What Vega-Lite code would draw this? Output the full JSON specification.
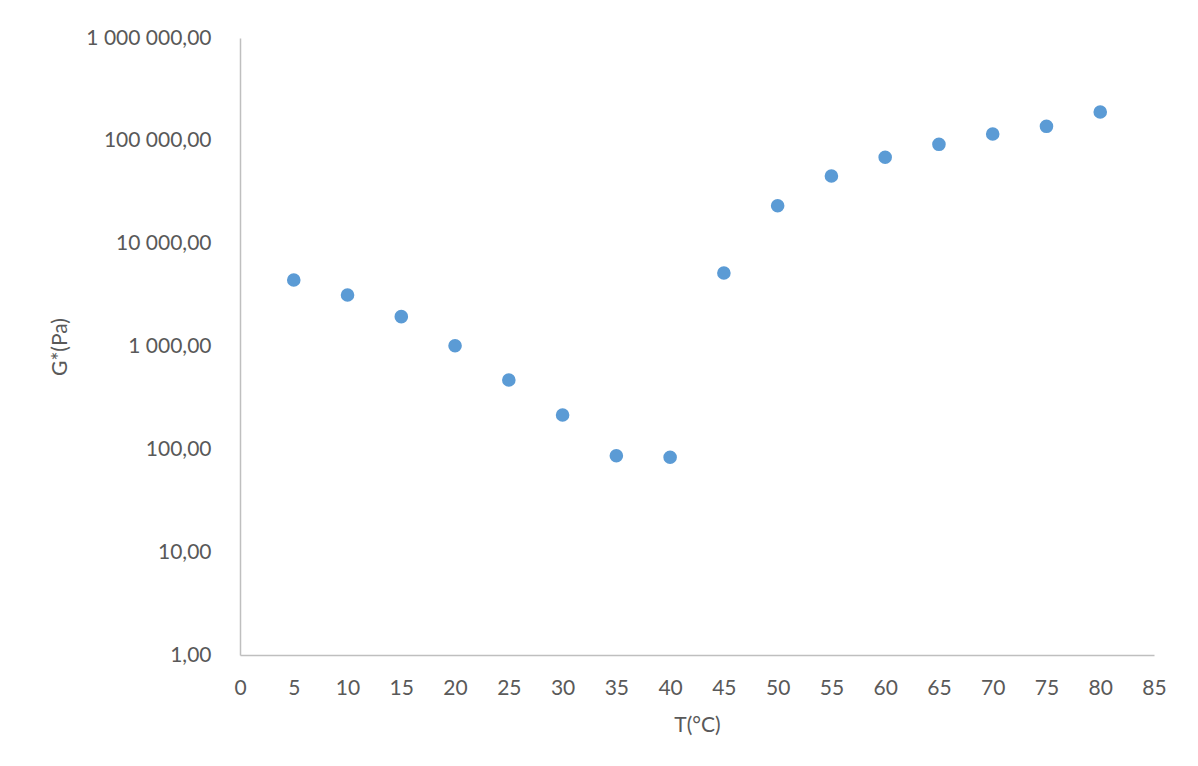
{
  "$schema": "https://vega.github.io/schema/vega-lite/v6.json",
  "width": 914,
  "height": 617,
  "autosize": {"type": "none"},
  "padding": {"left": 240, "top": 38, "right": 44, "bottom": 111},
  "background": "white",
  "config": {
    "view": {"stroke": null},
    "locale": {
      "number": {"decimal": ",", "thousands": " ", "grouping": [3], "currency": ["", " €"]}
    },
    "font": "Lato"
  },
  "data": {
    "values": [
      {"T": 5, "G": 4436},
      {"T": 10, "G": 3170},
      {"T": 15, "G": 1950},
      {"T": 20, "G": 1018},
      {"T": 25, "G": 472},
      {"T": 30, "G": 216},
      {"T": 35, "G": 86.7},
      {"T": 40, "G": 83.7},
      {"T": 45, "G": 5188},
      {"T": 50, "G": 23400},
      {"T": 55, "G": 45500},
      {"T": 60, "G": 69200},
      {"T": 65, "G": 92500},
      {"T": 70, "G": 116700},
      {"T": 75, "G": 138400},
      {"T": 80, "G": 190800}
    ]
  },
  "mark": {"type": "point", "filled": true, "shape": "circle", "size": 185, "color": "#5B9BD5", "opacity": 1},
  "encoding": {
    "x": {
      "field": "T",
      "type": "quantitative",
      "scale": {"domain": [0, 85], "nice": false, "zero": false},
      "axis": {
        "title": "T(°C)",
        "values": [0, 5, 10, 15, 20, 25, 30, 35, 40, 45, 50, 55, 60, 65, 70, 75, 80, 85],
        "format": "d",
        "grid": false,
        "ticks": false,
        "labelFlush": false,
        "labelOverlap": false,
        "domainColor": "#bfbfbf",
        "domainWidth": 1.5,
        "labelColor": "#595959",
        "labelFontSize": 21,
        "labelPadding": 22,
        "titleColor": "#595959",
        "titleFontSize": 21,
        "titleFontWeight": "normal",
        "titlePadding": 16
      }
    },
    "y": {
      "field": "G",
      "type": "quantitative",
      "scale": {"type": "log", "domain": [1, 1000000], "nice": false},
      "axis": {
        "title": "G*(Pa)",
        "values": [1, 10, 100, 1000, 10000, 100000, 1000000],
        "format": ",.2f",
        "grid": false,
        "ticks": false,
        "labelFlush": false,
        "labelOverlap": false,
        "domainColor": "#bfbfbf",
        "domainWidth": 1.5,
        "labelColor": "#595959",
        "labelFontSize": 21,
        "labelPadding": 29,
        "titleColor": "#595959",
        "titleFontSize": 21,
        "titleFontWeight": "normal",
        "titleX": -180,
        "titleY": 308.5,
        "titleAngle": -90,
        "titleAlign": "center",
        "titleBaseline": "middle"
      }
    }
  }
}
